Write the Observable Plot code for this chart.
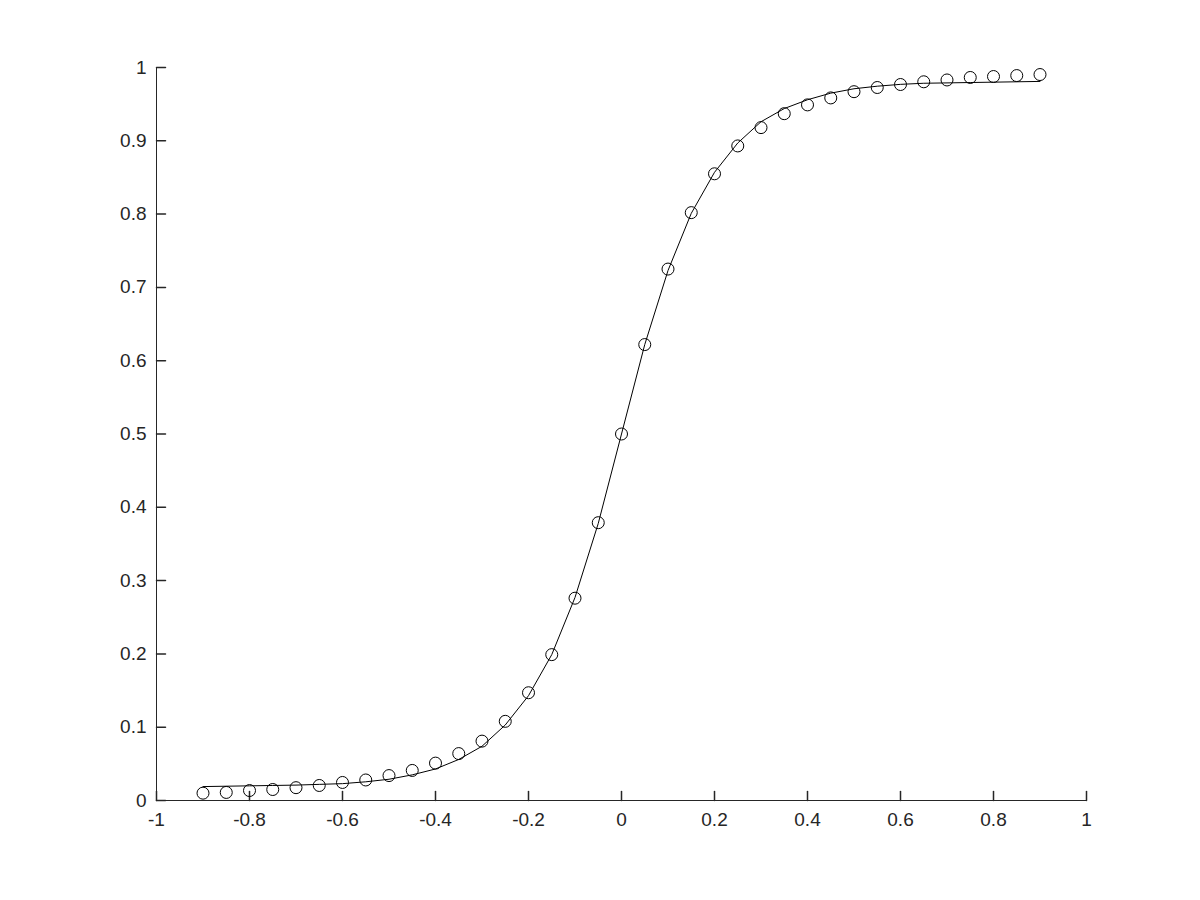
<!DOCTYPE html>
<html><head><meta charset="utf-8">
<script src="https://cdn.jsdelivr.net/npm/d3@7"></script>
<script src="https://cdn.jsdelivr.net/npm/@observablehq/plot@0.6"></script>
<style>body{margin:0;background:#fff}</style>
</head><body><div id="chart"></div>
<script>
const xData = [-0.9,-0.85,-0.8,-0.75,-0.7,-0.65,-0.6,-0.55,-0.5,-0.45,-0.4,-0.35,-0.3,-0.25,-0.2,-0.15,-0.1,-0.05,0,0.05,0.1,0.15,0.2,0.25,0.3,0.35,0.4,0.45,0.5,0.55,0.6,0.65,0.7,0.75,0.8,0.85,0.9];
const yData = [0.010,0.011,0.0136,0.015,0.0175,0.0205,0.0246,0.028,0.034,0.041,0.051,0.064,0.081,0.108,0.147,0.199,0.276,0.379,0.5,0.622,0.725,0.802,0.855,0.893,0.918,0.937,0.949,0.9585,0.967,0.9727,0.9768,0.9805,0.983,0.9864,0.9877,0.989,0.9904];
const xFit = [-0.9,-0.85,-0.8,-0.75,-0.7,-0.65,-0.6,-0.55,-0.5,-0.45,-0.4,-0.35,-0.3,-0.25,-0.2,-0.15,-0.1,-0.05,0,0.05,0.1,0.15,0.2,0.25,0.3,0.35,0.4,0.45,0.5,0.55,0.6,0.65,0.7,0.75,0.8,0.85,0.9];
const yFit = [0.019,0.0195,0.020,0.0205,0.021,0.022,0.023,0.0255,0.029,0.035,0.043,0.056,0.074,0.103,0.143,0.199,0.277,0.378,0.5,0.622,0.723,0.801,0.857,0.897,0.926,0.944,0.956,0.965,0.971,0.9745,0.977,0.9785,0.979,0.9795,0.980,0.9805,0.981];
const xTicks = [-1,-0.8,-0.6,-0.4,-0.2,0,0.2,0.4,0.6,0.8,1];
const yTicks = [0,0.1,0.2,0.3,0.4,0.5,0.6,0.7,0.8,0.9,1];

const points = xData.map((x, i) => ({x, y: yData[i]}));
const fit = xFit.map((x, i) => ({x, y: yFit[i]}));
const ink = "#262626";
const tickShape = {draw(ctx, l) { ctx.moveTo(0, 0); ctx.lineTo(0, -l); }};

const chart = Plot.plot({
  width: 1200, height: 900,
  marginLeft: 156, marginRight: 114, marginTop: 67, marginBottom: 100,
  style: {fontFamily: "'Liberation Sans', Arial, sans-serif", background: "#fff"},
  x: {domain: [-1, 1]},
  y: {domain: [0, 1]},
  marks: [
    Plot.ruleY([0], {stroke: ink, strokeWidth: 1}),
    Plot.ruleX([-1], {stroke: ink, strokeWidth: 1}),
    Plot.vector(xTicks, {x: d => d, frameAnchor: "bottom", length: 9, rotate: 0, anchor: "start", shape: tickShape, stroke: ink}),
    Plot.vector(yTicks, {y: d => d, frameAnchor: "left", length: 9, rotate: 90, anchor: "start", shape: tickShape, stroke: ink}),
    Plot.axisX(xTicks, {tickSize: 0, tickPadding: 12, fontSize: 19, color: ink, tickFormat: d => String(d), label: null}),
    Plot.axisY(yTicks, {tickSize: 0, tickPadding: 10, fontSize: 19, color: ink, tickFormat: d => String(d), label: null}),
    Plot.line(fit, {x: "x", y: "y", stroke: "#000", strokeWidth: 1}),
    Plot.dot(points, {x: "x", y: "y", r: 6, stroke: "#000", fill: "none", strokeWidth: 1})
  ]
});
document.getElementById("chart").append(chart);
</script>
</body></html>
